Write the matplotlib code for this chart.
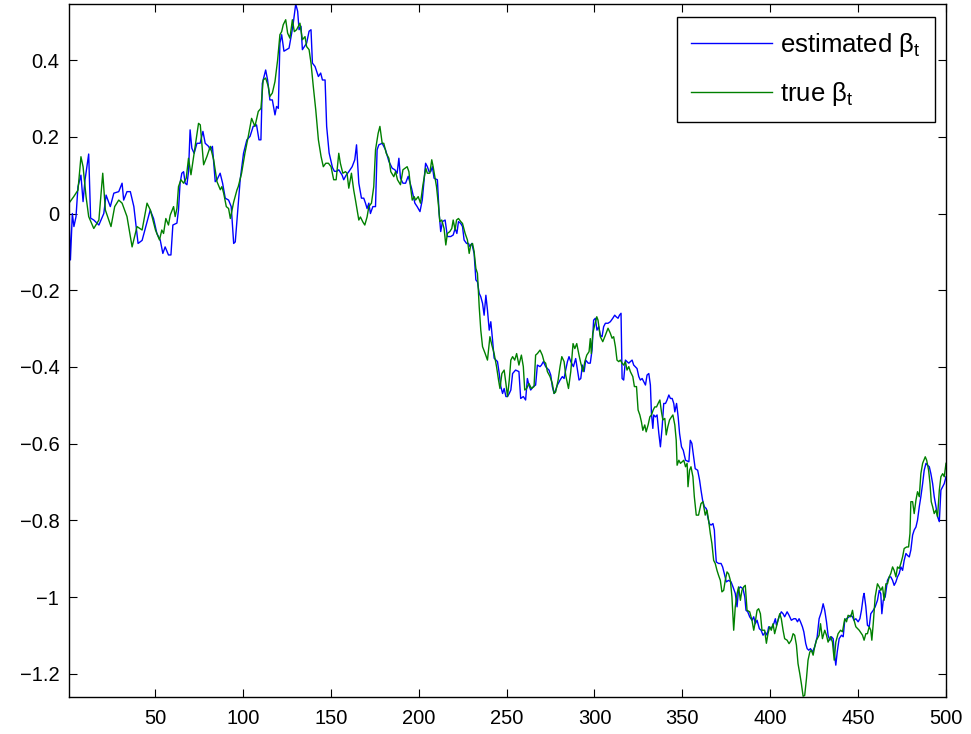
import matplotlib
matplotlib.use('Agg')
import matplotlib.pyplot as plt

plt.rcParams['font.family'] = ['Liberation Sans', 'DejaVu Sans']
plt.rcParams['mathtext.fontset'] = 'custom'
plt.rcParams['mathtext.rm'] = 'Liberation Sans'
plt.rcParams['mathtext.it'] = 'Liberation Sans'

# estimated beta_t (blue)
est_x = [1.0, 1.8, 2.9, 3.8, 5.0, 6.1, 7.8, 9.0, 10.1, 12.2, 13.3, 15.1, 18.0, 20.8, 22.1, 24.5, 26.5,
         29.3, 31.2, 32.1, 34.0, 35.9, 37.9, 40.3, 42.6,
         47.2, 49.1, 51.0, 52.9, 54.4, 55.7, 57.6, 59.0, 60.1, 62.4, 63.3, 64.2, 65.2, 66.2, 67.1, 68.1,
         69.0, 69.9, 70.9, 72.2, 73.8, 75.6, 77.2, 78.5, 80.4, 81.3, 82.6, 84.2, 85.2, 87.0, 88.4, 89.9,
         91.8, 93.3, 94.7, 95.6, 96.6, 98.4, 100.3, 102.2,
         104.0, 105.8, 107.7, 109.1, 110.2, 111.0, 112.9, 114.0, 115.3, 116.7, 118.2, 119.1, 120.1, 121.0,
         122.0, 123.3, 124.8, 126.2, 127.7, 128.6, 130.0, 131.1, 131.9, 133.0, 133.8, 134.9, 136.2, 137.6,
         138.7, 139.5, 141.0, 142.9, 144.2, 145.2, 146.7, 147.6, 149.0, 150.9, 152.0, 153.3,
         154.5, 156.4, 157.3, 158.7, 160.2, 162.1, 163.6, 164.6, 165.9, 167.4, 168.7, 169.7, 170.6, 171.6,
         172.5, 173.9, 175.4, 176.3, 177.3, 179.2, 181.1, 183.0, 184.9, 186.4, 187.7, 188.7, 189.6, 191.0,
         192.5, 194.0, 195.9, 197.8, 199.1, 200.7, 202.0, 203.9,
         204.9, 205.9, 206.8, 207.8, 208.7, 210.6, 211.6, 212.5, 213.5, 215.0, 216.3, 218.2, 219.6, 220.7,
         221.7, 222.6, 223.9, 224.9, 225.8, 227.2, 228.3, 229.1, 230.2, 231.5, 232.5, 233.4, 234.4, 235.3,
         236.3, 237.2, 238.2, 239.1, 240.1, 241.0, 242.0, 242.9, 244.8, 245.8, 246.7, 247.7, 248.6, 249.6,
         250.5, 251.5, 252.4, 253.4,
         255.1, 257.0, 258.0, 259.5, 260.8, 261.8, 262.7, 263.7, 265.2, 266.5, 267.5, 269.0, 269.8, 270.9,
         272.2, 273.2, 274.1, 275.1, 276.0, 277.0, 277.9, 278.9, 280.4, 281.7, 282.7, 283.6, 284.6, 285.5,
         286.5, 288.0, 289.3, 290.3, 291.2, 292.2, 293.1, 294.1, 295.0, 296.4,
         297.6, 298.6, 299.5, 300.5, 301.4, 302.4, 303.3, 304.3, 305.2, 306.2, 307.7, 309.0, 310.4, 311.5,
         312.3, 313.4, 314.2, 315.1, 315.7, 316.6, 317.6, 318.5, 319.5, 320.4, 321.4, 322.3, 324.2, 325.2,
         326.1, 327.1, 328.0, 329.0, 329.9, 330.9, 331.8, 332.4, 333.2, 333.7, 334.7, 335.6, 336.6, 337.5,
         338.5, 339.4, 340.4, 341.3, 342.3, 343.2, 344.2, 345.1, 345.7, 346.7, 347.6, 348.4, 349.5, 350.5,
         351.8, 353.7,
         354.5, 355.4, 356.4, 357.3, 358.7, 359.8, 360.6, 361.5, 362.5, 363.6, 364.4, 365.3, 366.3, 367.4,
         368.2, 368.7, 369.3, 370.6, 372.0, 372.9, 373.9, 375.0, 376.3, 377.7, 378.8, 380.1, 381.1, 382.0,
         383.0, 384.5, 385.5, 386.2, 387.2, 388.3, 389.6, 390.6, 391.5, 392.5, 393.8, 394.8, 395.9, 397.2,
         398.2, 399.1, 400.5, 402.0, 402.9,
         403.5, 405.0, 406.3, 407.3, 408.2, 409.6, 410.7, 412.0, 413.4, 414.5, 415.5, 416.4, 417.2, 418.3,
         419.1, 420.2, 421.0, 421.9, 422.9, 424.0, 425.3, 426.7, 427.8, 429.1, 430.1, 431.0, 432.0, 432.9,
         433.9, 434.8, 435.8, 436.4, 437.3, 438.1, 439.2, 440.5, 441.5, 442.4, 443.4, 444.9, 445.7, 446.8,
         447.6, 448.7, 450.0, 451.0, 451.9, 452.9,
         453.4, 454.4, 455.3, 456.3, 457.2, 458.6, 459.7, 461.0, 462.0, 462.9, 463.5, 464.3, 465.4, 466.7,
         467.7, 468.6, 469.6, 470.5, 471.5, 472.4, 473.4, 474.3, 475.3, 476.2, 477.2, 478.1, 479.1, 480.0,
         481.0, 481.9, 482.9, 483.8, 484.8, 485.7, 486.7, 487.6, 488.6, 489.5, 490.5, 491.4, 492.4, 493.3,
         494.3, 495.2, 496.2, 497.1, 498.1, 499.0, 500.0]
est_y = [0.0, -0.121, 0.0, -0.034, -0.008, 0.07, 0.1, 0.031, 0.087, 0.155, -0.012, -0.017, -0.03, 0.0,
         0.048, 0.018, 0.053, 0.057, 0.079, 0.035, 0.057, 0.057, 0.018, -0.078, -0.07,
         0.009, -0.013, -0.052, -0.069, -0.104, -0.087, -0.108, -0.108, -0.03, -0.025, 0.009, 0.079, 0.105,
         0.109, 0.079, 0.075, 0.109, 0.218, 0.17, 0.157, 0.183, 0.183, 0.214, 0.183, 0.175, 0.166, 0.175,
         0.083, 0.088, 0.105, 0.079, 0.04, 0.035, 0.018, -0.078, -0.074, -0.017, 0.088, 0.157, 0.192,
         0.201, 0.227, 0.231, 0.192, 0.192, 0.339, 0.374, 0.348, 0.296, 0.296, 0.257, 0.279, 0.274, 0.444,
         0.466, 0.423, 0.427, 0.431, 0.47, 0.496, 0.546, 0.527, 0.479, 0.488, 0.427, 0.435, 0.444, 0.475,
         0.479, 0.392, 0.383, 0.357, 0.366, 0.348, 0.348, 0.227, 0.158, 0.12, 0.11, 0.11,
         0.114, 0.1, 0.088, 0.1, 0.109, 0.122, 0.14, 0.179, 0.079, 0.04, 0.04, 0.027, 0.013, 0.027,
         0.0, 0.018, 0.018, 0.166, 0.179, 0.183, 0.166, 0.136, 0.118, 0.114, 0.105, 0.144, 0.092, 0.079,
         0.079, 0.097, 0.066, 0.027, 0.018, 0.005, 0.035, 0.131,
         0.122, 0.109, 0.109, 0.122, 0.092, 0.088, 0.0, -0.047, -0.021, -0.017, -0.06, -0.06, -0.056, -0.039,
         -0.052, -0.021, -0.026, -0.034, -0.069, -0.078, -0.078, -0.086, -0.078, -0.104, -0.173, -0.178,
         -0.208, -0.217, -0.234, -0.265, -0.213, -0.252, -0.304, -0.282, -0.33, -0.377, -0.386, -0.417,
         -0.451, -0.469, -0.456, -0.477, -0.477, -0.469, -0.46, -0.417,
         -0.408, -0.412, -0.482, -0.477, -0.486, -0.43, -0.447, -0.46, -0.451, -0.447, -0.395, -0.399,
         -0.395, -0.386, -0.399, -0.404, -0.408, -0.421, -0.451, -0.469, -0.46, -0.447, -0.434, -0.425,
         -0.43, -0.408, -0.386, -0.373, -0.386, -0.399, -0.378, -0.408, -0.434, -0.43, -0.395, -0.412,
         -0.382, -0.39,
         -0.39, -0.356, -0.278, -0.273, -0.304, -0.295, -0.317, -0.321, -0.295, -0.286, -0.286, -0.282,
         -0.273, -0.265, -0.269, -0.273, -0.265, -0.26, -0.43, -0.434, -0.382, -0.386, -0.39, -0.386,
         -0.382, -0.395, -0.404, -0.425, -0.434, -0.43, -0.438, -0.447, -0.421, -0.417, -0.447, -0.521,
         -0.56, -0.525, -0.53, -0.525, -0.573, -0.608, -0.556, -0.495, -0.495, -0.486, -0.473, -0.482,
         -0.482, -0.495, -0.517, -0.495, -0.53, -0.573, -0.608, -0.617, -0.643, -0.647,
         -0.591, -0.599, -0.634, -0.665, -0.669, -0.695, -0.721, -0.747, -0.764, -0.769, -0.79, -0.808,
         -0.812, -0.808, -0.825, -0.869, -0.908, -0.912, -0.912, -0.921, -0.939, -0.96, -0.956, -0.96,
         -0.973, -0.99, -1.025, -0.978, -0.973, -0.978, -0.999, -1.034, -1.038, -1.051, -1.06, -1.051,
         -1.069, -1.06, -1.082, -1.086, -1.099, -1.091, -1.099, -1.077, -1.082, -1.069, -1.056,
         -1.073, -1.051, -1.038, -1.043, -1.051, -1.038, -1.047, -1.06, -1.056, -1.056, -1.064, -1.056,
         -1.064, -1.077, -1.09, -1.121, -1.134, -1.138, -1.134, -1.143, -1.129, -1.103, -1.056, -1.038,
         -1.017, -1.034, -1.064, -1.099, -1.112, -1.103, -1.108, -1.143, -1.177, -1.143, -1.108, -1.099,
         -1.103, -1.06, -1.056, -1.051, -1.047, -1.051, -1.06, -1.056, -1.064, -1.056, -1.034, -0.999,
         -0.99, -1.025, -1.073, -1.077, -1.043, -1.034, -1.025, -1.008, -0.982, -0.991, -1.043, -1.008,
         -0.999, -0.956, -0.947, -0.947, -0.956, -0.969, -0.96, -0.947, -0.938, -0.921, -0.93, -0.904,
         -0.886, -0.891, -0.895, -0.877, -0.838, -0.825, -0.817, -0.799, -0.764, -0.738, -0.704, -0.669,
         -0.651, -0.656, -0.66, -0.678, -0.704, -0.738, -0.764, -0.79, -0.803, -0.721, -0.712, -0.704,
         -0.686]

# true beta_t (green)
true_x = [1.0, 3.7, 6.1, 7.8, 9.0, 10.7, 12.2, 15.1, 18.0, 20.2, 21.7, 23.6, 24.9, 27.0, 29.3, 31.2,
          34.0, 36.9, 39.7, 42.6, 45.4, 47.3, 50.2,
          52.5, 53.8, 54.8, 56.1, 57.6, 58.6, 60.5, 61.4, 62.4, 63.3, 64.7, 66.2, 67.7, 69.0, 70.4, 71.5,
          72.8, 74.7, 75.7, 77.6, 79.5, 81.4, 83.3, 85.2, 87.1, 88.0, 89.0, 90.5, 91.8, 92.8, 94.7, 96.6,
          97.3, 99.2, 101.1, 103.0, 104.9, 106.8, 108.7, 110.2, 111.5, 112.9, 114.4, 115.3, 116.7, 118.2,
          119.7, 121.0, 122.0, 122.9, 124.3, 125.4, 126.7, 128.1, 129.2, 130.5, 132.4, 133.8, 135.3, 136.2,
          137.6, 138.7, 140.0, 141.4, 142.9, 144.4, 145.7, 147.1, 148.6, 150.1, 151.6, 153.0,
          154.5, 155.4, 156.8, 158.3, 159.2, 160.2, 161.7, 163.0, 164.0, 165.9, 166.8, 168.2, 169.3, 170.6,
          171.6, 173.1, 174.4, 175.4, 176.9, 177.9, 179.2, 180.1, 181.5, 183.0, 184.1, 185.8, 186.8, 187.9,
          189.6, 191.0, 193.4, 194.4, 195.3, 196.3, 197.4, 198.2, 199.7, 201.0, 202.4,
          204.0, 204.9, 206.3, 207.4, 208.2, 209.3, 210.1, 211.2, 212.0, 213.1, 214.4, 215.4, 216.3, 217.7,
          218.8, 219.6, 220.7, 221.5, 222.6, 223.9, 224.9, 226.4, 227.7, 228.7, 229.6, 230.6, 231.5, 232.5,
          233.4, 234.4, 235.3, 236.3, 237.8, 239.1, 240.5, 241.6, 242.9, 244.3, 245.4, 246.2, 247.3, 248.6,
          249.6, 250.5, 251.5, 252.4, 253.4,
          254.6, 255.7, 257.0, 258.4, 259.5, 260.3, 261.4, 262.7, 264.1, 265.6, 266.5, 267.5, 269.0, 270.3,
          271.3, 272.2, 273.2, 274.7, 276.0, 277.0, 277.9, 279.3, 280.4, 281.4, 282.7, 283.6, 285.2, 286.5,
          287.8, 288.8, 289.9, 291.2, 292.2, 293.5, 294.5, 295.6, 296.9,
          297.6, 298.2, 299.0, 300.1, 301.3, 302.0, 303.3, 304.7, 306.2, 307.7, 309.0, 310.0, 310.9, 311.9,
          312.8, 313.8, 314.7, 315.7, 316.6, 317.6, 318.5, 319.5, 320.4, 321.8, 322.7, 323.9, 324.8, 325.8,
          326.7, 327.5, 328.6, 329.4, 330.5, 331.5, 332.4, 333.4, 334.3, 335.3, 336.2, 337.2, 338.1, 338.9,
          340.0, 340.8, 341.7, 342.7, 343.8, 344.6, 345.7, 346.5, 347.0, 348.0, 348.9, 349.9, 350.8, 351.8,
          352.7,
          353.2, 354.1, 354.9, 356.0, 356.8, 357.9, 359.2, 360.6, 361.7, 363.0, 364.0, 364.9, 365.9, 366.8,
          367.8, 368.7, 369.7, 370.6, 371.6, 372.5, 373.5, 374.4, 375.4, 376.3, 377.3, 378.2, 379.2, 380.1,
          381.1, 382.0, 383.0, 383.9, 384.9, 385.8, 386.8, 388.3, 389.6, 390.6, 391.5, 392.5, 393.4, 394.4,
          395.3,
          396.8, 397.8, 398.7, 399.7, 400.6, 401.6, 402.5, 403.5, 404.4, 405.4, 406.3, 407.3, 408.2, 409.6,
          410.7, 412.0, 413.0, 413.9, 414.9, 415.8, 416.8, 417.7, 418.7, 419.6, 420.6, 421.5, 422.5, 423.4,
          424.4, 425.3, 426.3, 427.8, 428.6, 429.7, 431.0, 432.0, 432.9, 434.3, 435.4, 436.4, 437.3, 438.6,
          440.0, 441.1, 442.4, 443.4, 444.3,
          445.8, 446.8, 447.7, 448.7, 450.6, 452.5, 453.4, 454.4, 455.3, 456.3, 457.2, 457.8, 458.6, 459.7,
          461.0, 462.0, 462.9, 463.9, 464.8, 465.8, 466.7, 467.7, 468.6, 469.6, 470.5, 471.5, 472.4, 473.4,
          474.3, 475.3, 476.2, 477.6, 478.7, 479.5, 480.0, 481.0, 481.9, 482.9, 483.8, 484.8, 485.7, 486.7,
          488.2, 489.0, 490.1, 490.9, 491.6, 492.4, 493.3, 494.3, 495.2, 496.2, 497.1, 498.1, 499.0, 500.0]
true_y = [0.027, 0.044, 0.061, 0.148, 0.122, 0.044, -0.008, -0.039, -0.017, 0.105, 0.009, -0.017, -0.034,
          0.018, 0.035, 0.027, -0.008, -0.087, -0.034, -0.043, 0.027, 0.009, -0.043,
          -0.069, -0.043, -0.052, -0.013, -0.03, -0.004, 0.018, -0.008, 0.013, 0.07, 0.088, 0.079, 0.092,
          0.144, 0.101, 0.135, 0.175, 0.235, 0.231, 0.127, 0.149, 0.175, 0.14, 0.083, 0.062, 0.07, 0.053,
          0.018, 0.013, -0.013, 0.03, 0.062,
          0.07, 0.105, 0.157, 0.201, 0.248, 0.227, 0.266, 0.274, 0.348, 0.353, 0.331, 0.305, 0.314, 0.344,
          0.4, 0.466, 0.474, 0.492, 0.505, 0.47, 0.457, 0.505, 0.474, 0.479, 0.496, 0.453, 0.461, 0.435,
          0.427, 0.392, 0.331, 0.27, 0.192, 0.149, 0.122, 0.131, 0.131, 0.122, 0.088, 0.088,
          0.157, 0.131, 0.105, 0.109, 0.105, 0.066, 0.105, 0.061, 0.035, -0.017, -0.009, -0.022, -0.03,
          -0.009, 0.018, 0.027, 0.07, 0.166, 0.209, 0.227, 0.183, 0.183, 0.157, 0.144, 0.109, 0.096, 0.109,
          0.088, 0.075, 0.114, 0.122, 0.109, 0.07, 0.035, 0.044, 0.035, 0.044, 0.027, 0.075,
          0.118, 0.105, 0.105, 0.14, 0.122, 0.092, 0.07, 0.022, -0.021, -0.017, -0.039, -0.082, -0.052,
          -0.047, -0.039, -0.017, -0.043, -0.017, -0.013, -0.021, -0.026, -0.052, -0.069, -0.104, -0.082,
          -0.078, -0.099, -0.143, -0.156, -0.243, -0.304, -0.347, -0.365, -0.382, -0.321, -0.343, -0.365,
          -0.4, -0.434, -0.456, -0.417, -0.408, -0.443, -0.477, -0.434, -0.382, -0.373,
          -0.382, -0.365, -0.395, -0.369, -0.399, -0.46, -0.456, -0.443, -0.456, -0.451, -0.369, -0.365,
          -0.356, -0.369, -0.386, -0.39, -0.412, -0.425, -0.443, -0.469, -0.465, -0.434, -0.399, -0.373,
          -0.386, -0.421, -0.456, -0.412, -0.339, -0.352, -0.339, -0.369, -0.39, -0.412, -0.386, -0.369,
          -0.36,
          -0.326, -0.365, -0.313, -0.291, -0.269, -0.278, -0.321, -0.334, -0.317, -0.299, -0.312, -0.325,
          -0.321, -0.347, -0.382, -0.386, -0.382, -0.39, -0.395, -0.386, -0.408, -0.399, -0.412, -0.425,
          -0.451, -0.451, -0.512, -0.525, -0.543, -0.565, -0.551, -0.569, -0.551, -0.53, -0.525, -0.512,
          -0.504, -0.504, -0.495, -0.486, -0.517, -0.538, -0.534, -0.577, -0.556, -0.538, -0.53, -0.525,
          -0.551, -0.591, -0.656, -0.643, -0.651, -0.647, -0.643, -0.66, -0.651,
          -0.712, -0.669, -0.66, -0.686, -0.738, -0.786, -0.786, -0.756, -0.751, -0.786, -0.773, -0.799,
          -0.834, -0.86, -0.904, -0.912, -0.93, -0.943, -0.956, -0.986, -0.982, -0.956, -0.934, -0.939,
          -0.956, -0.999, -1.086, -1.025, -0.991, -0.973, -1.008, -0.982, -0.973, -0.969, -1.034, -1.038,
          -1.06, -1.086, -1.064, -1.034, -1.03, -1.043, -1.086,
          -1.086, -1.12, -1.095, -1.077, -1.086, -1.069, -1.095, -1.077, -1.06, -1.043, -1.056, -1.086,
          -1.108, -1.112, -1.121, -1.112, -1.095, -1.099, -1.125, -1.173, -1.199, -1.225, -1.258, -1.256,
          -1.212, -1.164, -1.143, -1.138, -1.151, -1.129, -1.112, -1.099, -1.069, -1.108, -1.086, -1.099,
          -1.117, -1.103, -1.117, -1.164, -1.117, -1.095, -1.086, -1.09, -1.056, -1.064, -1.047,
          -1.051, -1.034, -1.06, -1.077, -1.086, -1.099, -1.112, -1.095, -1.095, -1.077, -1.086, -1.112,
          -1.069, -0.999, -0.965, -0.973, -0.982, -0.973, -1.008, -0.965, -0.965, -0.947, -0.938, -0.921,
          -0.93, -0.947, -0.921, -0.925, -0.912, -0.895, -0.873, -0.869, -0.869, -0.834, -0.751, -0.751,
          -0.782, -0.747, -0.725, -0.738, -0.678, -0.651, -0.634, -0.643, -0.669, -0.704, -0.751, -0.764,
          -0.782, -0.773, -0.79, -0.721, -0.686, -0.678, -0.686, -0.651]

x_ticks = [50, 100, 150, 200, 250, 300, 350, 400, 450, 500]
y_ticks = [-1.2, -1.0, -0.8, -0.6, -0.4, -0.2, 0.0, 0.2, 0.4]
y_tick_labels = ['\u22121.2', '\u22121', '\u22120.8', '\u22120.6', '\u22120.4', '\u22120.2', '0', '0.2', '0.4']


def main():
    fig = plt.figure(figsize=(9.71, 7.34), dpi=100)
    ax = fig.add_axes([69 / 971, 37 / 734, 877 / 971, 693 / 734])

    ax.plot(est_x, est_y, color=(0, 0, 1), lw=1.0, label=r'estimated $\beta_t$')
    ax.plot(true_x, true_y, color=(0, 0.5, 0), lw=1.0, label=r'true $\beta_t$')

    ax.set_xlim(1, 500)
    ax.set_ylim(-1.26, 0.546)
    ax.set_xticks(x_ticks)
    ax.set_yticks(y_ticks)
    ax.set_yticklabels(y_tick_labels)
    ax.tick_params(direction='in', length=6, width=0.8, labelsize=14.5, pad=7,
                   top=True, right=True)
    ax.tick_params(axis='x', pad=9)
    for s in ax.spines.values():
        s.set_linewidth(1.0)

    leg = ax.legend(loc='upper right', bbox_to_anchor=(0.9875, 0.981), fontsize=18.5,
                    handlelength=3.15, handletextpad=0.32, labelspacing=0.8,
                    borderpad=0.55, borderaxespad=0.0, fancybox=False, framealpha=1,
                    edgecolor='black')
    leg.get_frame().set_linewidth(1.0)

    fig.savefig('out.png', dpi=100)


if __name__ == '__main__':
    main()
